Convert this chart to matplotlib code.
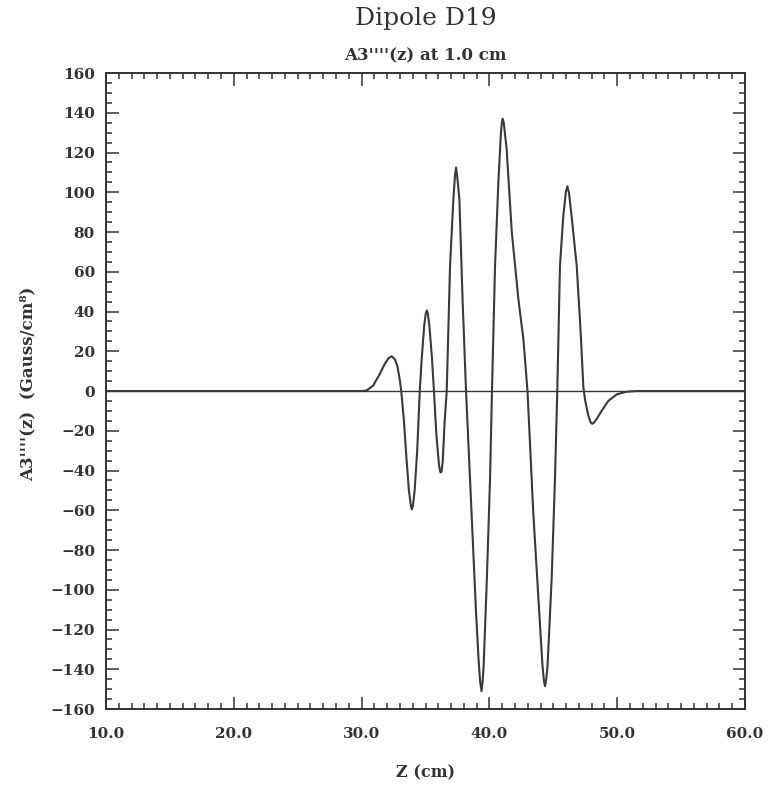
import matplotlib
matplotlib.use("Agg")
import matplotlib.pyplot as plt
from matplotlib.ticker import MultipleLocator, FormatStrFormatter

# values: z in cm, A3''''(z) in Gauss/cm^8
z_cm = [
    10.0, 29.5, 30.0, 30.4, 30.9, 31.4, 31.8, 32.1, 32.35, 32.6, 32.8, 33.0,
    33.1, 33.3, 33.5, 33.7, 33.85, 33.93, 34.02, 34.15, 34.35, 34.55,
    34.7, 34.9, 35.02, 35.1, 35.18, 35.3, 35.5, 35.66,
    35.85, 36.05, 36.14, 36.2, 36.26, 36.35, 36.5, 36.66,
    36.92, 37.18, 37.3, 37.39, 37.48, 37.65, 37.9, 38.17,
    38.6, 38.95, 39.15, 39.27, 39.38, 39.47, 39.55, 39.8, 40.05, 40.2,
    40.44, 40.7, 40.9, 40.98, 41.04, 41.12, 41.35, 41.75, 42.27, 42.66, 42.98,
    43.43, 43.9, 44.15, 44.27, 44.35, 44.43, 44.55, 44.87, 45.13, 45.31,
    45.52, 45.78, 45.98, 46.1, 46.22, 46.43, 46.83, 47.14, 47.35,
    47.5, 47.74, 47.92, 48.05, 48.2, 48.4, 48.78, 49.3, 49.96, 50.7, 51.5,
    60.0,
]
a3_4th = [
    0.0, 0.0, 0.0, 0.3, 2.7, 8.3, 13.5, 16.5, 17.5, 16.0, 12.5, 5.0,
    0.0, -14.0, -33.0, -50.0, -57.5, -59.5, -57.5, -50.0, -30.0, 0.0,
    16.0, 33.0, 39.0, 40.5, 39.0, 33.0, 17.0, 0.0,
    -22.0, -37.0, -40.5, -41.0, -40.5, -35.0, -15.0, 0.0,
    63.0, 96.5, 108.0, 112.5, 108.0, 96.5, 46.0, 0.0,
    -61.0, -111.0, -135.0, -146.0, -151.0, -146.0, -138.0, -94.5, -44.0, 0.0,
    63.0, 105.0, 130.0, 135.5, 137.0, 135.0, 121.6, 80.0, 46.0, 26.0, 0.0,
    -61.0, -111.5, -138.0, -146.0, -148.5, -146.0, -138.0, -94.5, -44.0, 0.0,
    63.0, 88.0, 100.0, 103.0, 100.0, 88.0, 63.0, 29.6, 2.0,
    -5.0, -12.4, -15.8, -16.5, -15.8, -14.0, -10.0, -5.0, -1.7, -0.4, 0.0,
    0.0,
]

x_limits = (10, 60)
y_limits = (-160, 160)

ink = "#333333"
serif = ["DejaVu Serif"]

fig = plt.figure(figsize=(7.71, 7.85), dpi=100)
ax = fig.add_axes([0.1375, 0.0968, 0.8288, 0.8102])

ax.axhline(0, color=ink, linewidth=1.0, zorder=1)
ax.plot(z_cm, a3_4th, color="#3a3a3a", linewidth=1.5, zorder=2)

ax.set_xlim(*x_limits)
ax.set_ylim(*y_limits)

ax.xaxis.set_major_locator(MultipleLocator(10))
ax.xaxis.set_minor_locator(MultipleLocator(1))
ax.yaxis.set_major_locator(MultipleLocator(20))
ax.yaxis.set_minor_locator(MultipleLocator(5))
ax.xaxis.set_major_formatter(FormatStrFormatter("%.1f"))

ax.tick_params(which="both", direction="in", top=True, right=True,
               color=ink, width=1.1)
ax.tick_params(which="major", length=9)
ax.tick_params(which="minor", length=4.5)
ax.tick_params(axis="x", which="major", pad=13)
ax.tick_params(axis="y", which="major", pad=8)
for lab in ax.get_xticklabels() + ax.get_yticklabels():
    lab.set_family(serif)
    lab.set_fontweight("bold")
    lab.set_fontsize(11)
    lab.set_color(ink)

for sp in ax.spines.values():
    sp.set_linewidth(1.4)
    sp.set_color(ink)

ax.set_xlabel("Z (cm)", family=serif, fontweight="bold", fontsize=11.5,
              color=ink, labelpad=17)
ax.set_ylabel("A3''''(z)  (Gauss/cm\u2078)", family=serif, fontweight="bold",
              fontsize=12, color=ink)
ax.yaxis.set_label_coords(-0.108, 0.512)

fig.text(0.552, 0.976, "Dipole D19", family=serif, fontsize=18,
         color=ink, ha="center", va="center")
fig.text(0.552, 0.929, "A3''''(z) at 1.0 cm", family=serif, fontweight="bold",
         fontsize=12, color=ink, ha="center", va="center")

fig.savefig("out.png", dpi=100)
